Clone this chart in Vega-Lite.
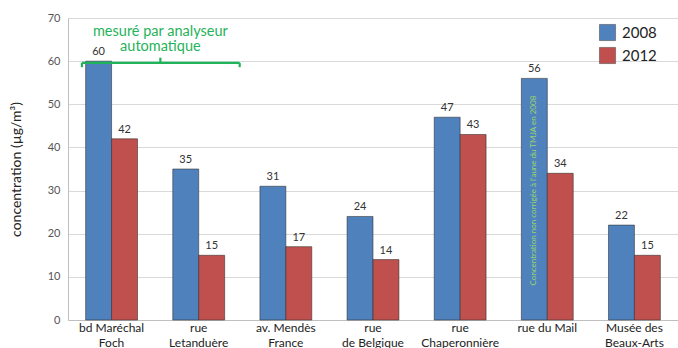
{
  "$schema": "https://vega.github.io/schema/vega-lite/v6.json",
  "autosize": "none",
  "width": 610,
  "height": 302,
  "padding": {"left": 68, "top": 18, "right": 0, "bottom": 28},
  "background": "white",
  "config": {
    "font": "Lato",
    "view": {"stroke": null},
    "axis": {"labelFont": "Lato", "titleFont": "Lato"}
  },
  "datasets": {
    "mesures": [
      {"site": "bd Maréchal|Foch", "annee": "2008", "valeur": 60},
      {"site": "bd Maréchal|Foch", "annee": "2012", "valeur": 42},
      {"site": "rue|Letanduère", "annee": "2008", "valeur": 35},
      {"site": "rue|Letanduère", "annee": "2012", "valeur": 15},
      {"site": "av. Mendès|France", "annee": "2008", "valeur": 31},
      {"site": "av. Mendès|France", "annee": "2012", "valeur": 17},
      {"site": "rue|de Belgique", "annee": "2008", "valeur": 24},
      {"site": "rue|de Belgique", "annee": "2012", "valeur": 14},
      {"site": "rue|Chaperonnière", "annee": "2008", "valeur": 47},
      {"site": "rue|Chaperonnière", "annee": "2012", "valeur": 43},
      {"site": "rue du Mail", "annee": "2008", "valeur": 56},
      {"site": "rue du Mail", "annee": "2012", "valeur": 34},
      {"site": "Musée des|Beaux-Arts", "annee": "2008", "valeur": 22},
      {"site": "Musée des|Beaux-Arts", "annee": "2012", "valeur": 15}
    ],
    "accolade": [
      {"x": 0.16, "x2": 1.97, "y": 59.6, "y2": 59.6},
      {"x": 0.16, "x2": 0.16, "y": 58.6, "y2": 59.6},
      {"x": 1.97, "x2": 1.97, "y": 58.6, "y2": 59.6},
      {"x": 1.06, "x2": 1.06, "y": 59.6, "y2": 60.8}
    ],
    "note": [
      {"x": 1.06, "y": 66.8, "texte": "mesuré par analyseur|automatique"}
    ]
  },
  "layer": [
    {
      "data": {"name": "mesures"},
      "encoding": {
        "x": {
          "field": "site",
          "type": "nominal",
          "sort": ["bd Maréchal|Foch", "rue|Letanduère", "av. Mendès|France", "rue|de Belgique", "rue|Chaperonnière", "rue du Mail", "Musée des|Beaux-Arts"],
          "scale": {"paddingInner": 0, "paddingOuter": 0},
          "axis": {
            "title": null,
            "labelExpr": "split(datum.value, '|')",
            "labelAngle": 0,
            "labelFontSize": 12,
            "labelColor": "#222",
            "labelPadding": 2,
            "labelLineHeight": 15,
            "labelBaseline": "top",
            "ticks": false,
            "domainColor": "#bfbfbf",
            "domain": true
          }
        },
        "xOffset": {
          "field": "annee",
          "type": "nominal",
          "scale": {"paddingInner": 0, "paddingOuter": 0.68}
        },
        "y": {
          "field": "valeur",
          "type": "quantitative",
          "scale": {"domain": [0, 70]},
          "axis": {
            "title": "concentration (µg/m³)",
            "titleFontSize": 14,
            "titleFontWeight": "normal",
            "titleColor": "#222",
            "titlePadding": 24,
            "values": [0, 10, 20, 30, 40, 50, 60, 70],
            "labelFontSize": 11,
            "labelColor": "#555",
            "labelPadding": 8,
            "ticks": false,
            "domainColor": "#bfbfbf",
            "gridColor": "#d9d9d9"
          }
        }
      },
      "layer": [
        {
          "mark": {"type": "bar", "stroke": "#2b2b2b", "strokeOpacity": 0.55, "strokeWidth": 1},
          "encoding": {
            "color": {
              "field": "annee",
              "type": "nominal",
              "scale": {"domain": ["2008", "2012"], "range": ["#4F81BD", "#C0504D"]},
              "legend": {
                "title": null,
                "orient": "none",
                "legendX": 531,
                "legendY": 6,
                "symbolType": "square",
                "symbolSize": 260,
                "symbolStrokeColor": "#555",
                "symbolStrokeWidth": 0.6,
                "labelFontSize": 15,
                "labelColor": "#222",
                "rowPadding": 4,
                "labelOffset": 6
              }
            }
          }
        },
        {
          "mark": {"type": "text", "baseline": "bottom", "dy": -4, "fontSize": 11, "color": "#333"},
          "encoding": {"text": {"field": "valeur", "type": "quantitative"}}
        },
        {
          "transform": [{"filter": "datum.site == 'rue du Mail' && datum.annee == '2008'"}],
          "mark": {"type": "text", "angle": 270, "fontSize": 8, "color": "#9ad46c", "baseline": "middle", "align": "center"},
          "encoding": {
            "y": {"datum": 30},
            "text": {"value": "Concentration non corrigée à l'aune du TMJA en 2008"}
          }
        }
      ]
    },
    {
      "layer": [
        {
          "data": {"name": "accolade"},
          "mark": {"type": "rule", "color": "#1fb35a", "strokeWidth": 2.2},
          "encoding": {
            "x": {"field": "x", "type": "quantitative", "scale": {"domain": [0, 7], "nice": false, "zero": false}, "axis": null},
            "x2": {"field": "x2"},
            "y": {"field": "y", "type": "quantitative"},
            "y2": {"field": "y2"}
          }
        },
        {
          "data": {"name": "note"},
          "mark": {"type": "text", "lineBreak": "|", "fontSize": 14.5, "color": "#1fb35a", "lineHeight": 15.5, "baseline": "middle"},
          "encoding": {
            "x": {"field": "x", "type": "quantitative", "scale": {"domain": [0, 7], "nice": false, "zero": false}, "axis": null},
            "y": {"field": "y", "type": "quantitative"},
            "text": {"field": "texte"}
          }
        }
      ]
    }
  ],
  "resolve": {"scale": {"x": "independent"}}
}
